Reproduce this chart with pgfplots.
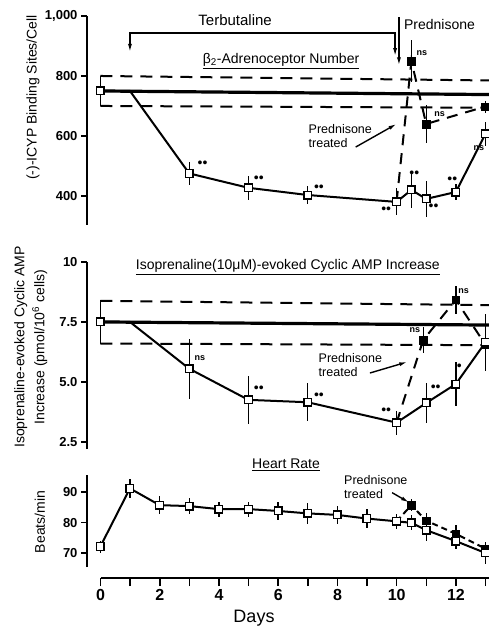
\documentclass[border=0pt]{standalone}
\usepackage{fontspec}
\setmainfont{Liberation Sans}
\usepackage{pgfplots}
\usepackage{pgfplotstable}
\pgfplotsset{compat=1.18}
\usetikzlibrary{arrows.meta}

% beta2-adrenoceptor number, terbutaline (day 1 row only carries the line)
\pgfplotstableread{
x    y    e
0    750  50
1    750  0
3    475  38
5    427  40
7    403  30
10   380  45
10.5 420  60
11   390  60
12   413  28
13   607  40
}\topT
\pgfplotstableread{
x    y    e
10   380  0
10.5 850  70
11   640  62
13   698  20
}\topP

% isoprenaline-evoked cyclic AMP
\pgfplotstableread{
x    y    e
0    7.5  0.9
1    7.5  0
3    5.55 1.25
5    4.25 1.0
7    4.15 0.8
10   3.3  0.5
11   4.12 0.85
12   4.91 0.9
13   6.65 1.2
}\midT
\pgfplotstableread{
x    y    e
10   3.3  0
10.9 6.75 0.55
12   8.42 0.6
13   6.55 0.3
}\midP

% heart rate
\pgfplotstableread{
x    y    e
0    72.1 2
1    91.2 3
2    85.7 3
3    85.4 2.5
4    84.4 2.5
5    84.4 2.5
6    83.8 3
7    83.0 3.5
8    82.5 3
9    81.3 3
10   80.4 2.5
10.5 79.9 2.5
11   77.5 3.5
12   73.9 2.5
13   70.0 3.5
}\botT
\pgfplotstableread{
x    y    e
10   80.4 0
10.5 85.7 2
11   80.6 2.5
12   76.3 3
13   71.4 2
}\botP

\pgfplotsset{
  panel/.style={scale only axis, width=402pt, xmin=-0.45, xmax=13.12,
    axis x line=none, axis y line*=left, xtick=\empty, clip mode=individual,
    y axis line style={line width=2.4pt}, tick style={line width=1.6pt, black},
    tick align=outside, major tick length=6pt,
    yticklabel style={font=\fontsize{13}{13}\selectfont\bfseries},
    ylabel style={font=\fontsize{14}{20}\selectfont, anchor=center, align=center}},
  trace/.style={black, line width=2pt, no marks},
  ptrace/.style={black, line width=2pt, dash pattern=on 11pt off 8pt, no marks},
  ebars/.style={error bars/y dir=both, error bars/y explicit,
    error bars/error mark=none,
    error bars/error bar style={line width=1.4pt, solid}},
  open/.style={black, only marks, mark=square*, mark size=3.8pt,
    mark options={fill=white, line width=1.4pt, solid}, ebars},
  filled/.style={black, only marks, mark=square*, mark size=3.8pt,
    mark options={fill=black, solid}, ebars},
  ctrl/.style={black, line width=3.2pt},
  cdash/.style={black, line width=2pt, dash pattern=on 12pt off 8pt},
}
\tikzset{sig/.style={font=\fontsize{9}{9}\selectfont\bfseries, inner sep=0pt},
  dots/.style={font=\fontsize{14}{14}\selectfont, inner sep=0pt},
  note/.style={font=\fontsize{12.5}{14}\selectfont, align=left, inner sep=0pt},
  arr/.style={line width=1.4pt, -{Latex[length=8pt,width=4pt]}}}

\begin{document}
\begin{tikzpicture}[x=1pt,y=1pt]
\path[use as bounding box] (0,0) rectangle (489,-628);

% ---- top panel
\begin{axis}[panel, at={(87pt,-225pt)}, anchor=south west, height=209pt,
  ymin=303, ymax=1000, ytick={400,600,800,1000},
  yticklabels={400,600,800,{1,000}},
  ylabel={(-)-ICYP Binding Sites/Cell},
  ylabel style={at={(axis description cs:-0.134,0.61)}}]
\addplot[cdash] coordinates {(0,800) (13.12,785)};
\addplot[cdash] coordinates {(0,700) (13.12,694)};
\addplot[ctrl] coordinates {(0,750) (13.12,738)};
\addplot[ptrace] table[x=x,y=y] {\topP};
\addplot[filled, skip coords between index={0}{1}] table[x=x,y=y,y error=e] {\topP};
\addplot[trace] table[x=x,y=y] {\topT};
\addplot[open, skip coords between index={1}{2}] table[x=x,y=y,y error=e] {\topT};
\node[font=\fontsize{15}{15}\selectfont] at (axis cs:4.55,987) {Terbutaline};
\draw[line width=1.6pt, {Latex[length=9pt,width=4pt]}-{Latex[length=9pt,width=4pt]}]
  (axis cs:1,877) -- (axis cs:1,943) -- (axis cs:9.95,943) -- (axis cs:9.95,863);
\draw[arr] (axis cs:10.08,995) -- (axis cs:10.08,835);
\node[font=\fontsize{14}{14}\selectfont] at (axis cs:11.45,973) {Prednisone};
\node[font=\fontsize{14}{14}\selectfont] at (axis cs:6.1,850)
  {\underline{β\textsubscript{2}-Adrenoceptor Number}};
\node[note] at (axis cs:8.1,600) {Prednisone\\treated};
\draw[arr] (axis cs:8.62,563) -- (axis cs:10.0,640);
\node[dots] at (axis cs:3.45,507) {••};
\node[dots] at (axis cs:5.35,457) {••};
\node[dots] at (axis cs:7.38,427) {••};
\node[dots] at (axis cs:9.65,351) {••};
\node[dots] at (axis cs:10.6,473) {••};
\node[dots] at (axis cs:11.25,363) {••};
\node[dots] at (axis cs:11.88,453) {••};
\node[sig] at (axis cs:10.85,877) {ns};
\node[sig] at (axis cs:11.45,672) {ns};
\node[sig] at (axis cs:12.78,560) {ns};
\end{axis}

% ---- middle panel
\begin{axis}[panel, at={(87pt,-449pt)}, anchor=south west, height=187pt,
  ymin=2.2, ymax=10, ytick={2.5,5,7.5,10},
  yticklabels={2.5,5.0,7.5,10},
  ylabel={Isoprenaline-evoked Cyclic AMP\\Increase (pmol/10\textsuperscript{6} cells)},
  ylabel style={at={(axis description cs:-0.14,0.545)}}]
\addplot[cdash] coordinates {(0,8.38) (13.12,8.2)};
\addplot[cdash] coordinates {(0,6.6) (13.12,6.53)};
\addplot[ctrl] coordinates {(0,7.5) (13.12,7.37)};
\addplot[ptrace] table[x=x,y=y] {\midP};
\addplot[filled, skip coords between index={0}{1}] table[x=x,y=y,y error=e] {\midP};
\addplot[trace] table[x=x,y=y] {\midT};
\addplot[open, skip coords between index={1}{2}] table[x=x,y=y,y error=e] {\midT};
\node[font=\fontsize{14}{14}\selectfont] at (axis cs:6.33,9.79)
  {\underline{Isoprenaline(10μM)-evoked Cyclic AMP Increase}};
\node[note] at (axis cs:8.44,5.7) {Prednisone\\treated};
\draw[arr] (axis cs:9.1,5.37) -- (axis cs:10.36,5.83);
\node[sig] at (axis cs:3.36,6.0) {ns};
\node[dots] at (axis cs:5.35,4.7) {••};
\node[dots] at (axis cs:7.38,4.42) {••};
\node[dots] at (axis cs:9.65,3.76) {••};
\node[dots] at (axis cs:11.32,4.73) {••};
\node[dots] at (axis cs:12.12,5.6) {•};
\node[sig] at (axis cs:10.62,7.14) {ns};
\node[sig] at (axis cs:12.26,8.77) {ns};
\end{axis}

% ---- heart rate panel
\begin{axis}[panel, at={(87pt,-567pt)}, anchor=south west, height=92pt,
  ymin=65.4, ymax=95.6, ytick={70,80,90}, yticklabels={70,80,90},
  ylabel={Beats/min},
  ylabel style={at={(axis description cs:-0.117,0.49)}}]
\addplot[black, line width=2pt, dash pattern=on 6pt off 4pt, no marks] table[x=x,y=y] {\botP};
\addplot[filled, skip coords between index={0}{1}] table[x=x,y=y,y error=e] {\botP};
\addplot[trace] table[x=x,y=y] {\botT};
\addplot[open] table[x=x,y=y,y error=e] {\botT};
\node[font=\fontsize{14}{14}\selectfont] at (axis cs:6.27,98.9) {\underline{Heart Rate}};
\node[note] at (axis cs:9.3,91.6) {Prednisone\\treated};
\draw[arr] (axis cs:9.85,89.8) -- (axis cs:10.42,86.6);
\end{axis}

% ---- shared day axis
\begin{axis}[scale only axis, width=388.6pt, height=10pt, at={(100.5pt,-578pt)},
  anchor=south west, xmin=0, xmax=13.12, ymin=0, ymax=1,
  axis y line=none, axis x line*=bottom, x axis line style={line width=2.4pt},
  xtick={0,...,13}, xticklabels={0,,2,,4,,6,,8,,10,,12,},
  tick align=outside, major tick length=8pt, tick style={line width=1.6pt, black},
  xticklabel style={font=\fontsize{16}{16}\selectfont\bfseries},
  xlabel={Days},
  xlabel style={font=\fontsize{18}{18}\selectfont, at={(axis description cs:0.395,-4)}, anchor=center}]
\addplot[draw=none] coordinates {(0,0)};
\end{axis}
\end{tikzpicture}
\end{document}
